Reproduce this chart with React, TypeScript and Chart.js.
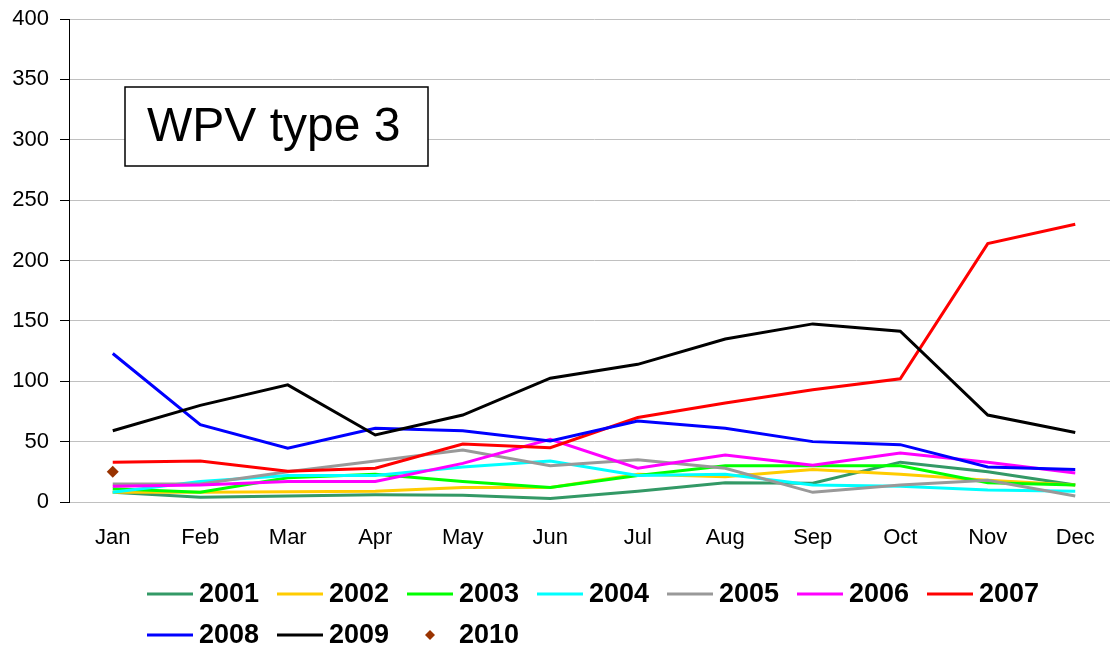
import React, { useEffect, useRef } from "react";
import { Chart, registerables } from "chart.js";

Chart.register(...registerables);

const months = ["Jan", "Feb", "Mar", "Apr", "May", "Jun", "Jul", "Aug", "Sep", "Oct", "Nov", "Dec"];

const y2001 = [8, 4, 5, 6, 5.5, 3, 9, 16, 15.5, 33, 25, 14];
const y2002 = [8, 8, 8.5, 9, 12, 12, 23, 21, 27, 23, 18, 14];
const y2003 = [11, 8, 20, 23, 17, 12, 22, 30, 30, 30, 16, 14];
const y2004 = [8, 17, 22, 22, 29, 34, 22, 23, 14, 13, 10, 9];
const y2005 = [15, 15, 25, 34, 43, 30, 35, 28, 8, 14, 18, 5];
const y2006 = [13, 14, 17, 17, 32, 52, 28, 39, 30.5, 40.5, 33, 24];
const y2007 = [33, 34, 25.5, 28, 48, 45, 70, 82, 93, 102, 214, 230];
const y2008 = [123, 64, 44.5, 61, 59, 50.5, 67, 61, 50, 47.5, 29, 27];
const y2009 = [59, 80, 97, 55.5, 72, 102.5, 114, 135, 147.5, 141.5, 72, 57.5];
const y2010 = [25, null, null, null, null, null, null, null, null, null, null, null];

const yTicks = [0, 50, 100, 150, 200, 250, 300, 350, 400];
const boxTitle = "WPV type 3";

const seriesNames = ["2001", "2002", "2003", "2004", "2005", "2006", "2007", "2008", "2009", "2010"];
const seriesColors = ["#339966", "#FFCC00", "#00FF00", "#00FFFF", "#999999", "#FF00FF", "#FF0000", "#0000FF", "#000000", "#993300"];
const seriesValues = [y2001, y2002, y2003, y2004, y2005, y2006, y2007, y2008, y2009, y2010];

const FONT = "'Liberation Sans', Arial, sans-serif";

const overlayPlugin = {
  id: "overlay",
  afterDraw(chart: any) {
    const ctx = chart.ctx;
    const area = chart.chartArea;
    ctx.save();
    // Title box
    const bx = area.left + 56;
    const by = area.top + 68;
    ctx.fillStyle = "#ffffff";
    ctx.fillRect(bx, by, 303, 79);
    ctx.strokeStyle = "#000000";
    ctx.lineWidth = 1.5;
    ctx.strokeRect(bx, by, 303, 79);
    ctx.fillStyle = "#000000";
    ctx.font = "48px " + FONT;
    ctx.textAlign = "left";
    ctx.textBaseline = "middle";
    ctx.fillText(boxTitle, bx + 22, by + 41);

    // Legend
    const startX = area.left + 78;
    const row1 = area.bottom + 92;
    const rowGap = 41;
    const step = 130;
    const perRow = 7;
    ctx.font = "bold 27px " + FONT;
    chart.data.datasets.forEach((ds: any, i: number) => {
      const r = Math.floor(i / perRow);
      const c = i % perRow;
      const x = startX + c * step;
      const y = row1 + r * rowGap;
      if (ds.showLine === false) {
        const cx = x + 23;
        ctx.fillStyle = ds.backgroundColor;
        ctx.beginPath();
        ctx.moveTo(cx, y - 5);
        ctx.lineTo(cx + 5, y);
        ctx.lineTo(cx, y + 5);
        ctx.lineTo(cx - 5, y);
        ctx.closePath();
        ctx.fill();
      } else {
        ctx.strokeStyle = ds.borderColor;
        ctx.lineWidth = 3;
        ctx.beginPath();
        ctx.moveTo(x, y);
        ctx.lineTo(x + 46, y);
        ctx.stroke();
      }
      ctx.fillStyle = "#000000";
      ctx.textBaseline = "middle";
      ctx.fillText(ds.label, x + 52, y + 1);
    });
    ctx.restore();
  },
};

export default function App() {
  const ref = useRef<HTMLCanvasElement | null>(null);
  useEffect(() => {
    if (!ref.current) return;
    const datasets = seriesNames.map((name, i) => {
      const isPoint = name === "2010";
      return {
        label: name,
        data: seriesValues[i],
        borderColor: seriesColors[i],
        backgroundColor: seriesColors[i],
        borderWidth: isPoint ? 0 : 3,
        pointRadius: isPoint ? 6 : 0,
        pointHoverRadius: isPoint ? 6 : 0,
        pointStyle: isPoint ? "rectRot" : "circle",
        showLine: !isPoint,
        tension: 0,
        order: 20 - i,
        spanGaps: false,
      };
    });
    const chart = new Chart(ref.current, {
      type: "line",
      data: { labels: months, datasets },
      options: {
        animation: false,
        responsive: false,
        layout: { autoPadding: false, padding: { top: 19, left: 0, right: 1, bottom: 86 } },
        plugins: {
          legend: { display: false },
          tooltip: { enabled: false },
        },
        scales: {
          x: {
            offset: true,
            grid: { display: false, drawTicks: false },
            border: { display: true, color: "#c0c0c0", width: 1 },
            ticks: { color: "#000000", font: { family: FONT, size: 22 }, padding: 23, maxRotation: 0, autoSkip: false },
            afterFit(scale: any) {
              scale.height = 60;
              scale.paddingLeft = 0;
              scale.paddingRight = 0;
            },
          },
          y: {
            min: 0,
            max: 400,
            afterBuildTicks(scale: any) {
              scale.ticks = yTicks.map((v) => ({ value: v }));
            },
            grid: { color: "#c0c0c0", lineWidth: 1, drawTicks: true, tickLength: 9, tickColor: "#000000" },
            border: { display: true, color: "#000000", width: 1 },
            ticks: { color: "#000000", font: { family: FONT, size: 22 }, padding: 11 },
            afterFit(scale: any) {
              scale.width = 69;
              scale.paddingTop = 0;
              scale.paddingBottom = 0;
            },
          },
        },
      },
      plugins: [overlayPlugin],
    });
    return () => chart.destroy();
  }, []);
  return (
    <div style={{ position: "fixed", left: 0, top: 0, width: 1110, height: 648, overflow: "hidden", background: "#ffffff" }}>
      <canvas ref={ref} width={1120} height={648} style={{ width: 1120, height: 648, display: "block" }} />
    </div>
  );
}
